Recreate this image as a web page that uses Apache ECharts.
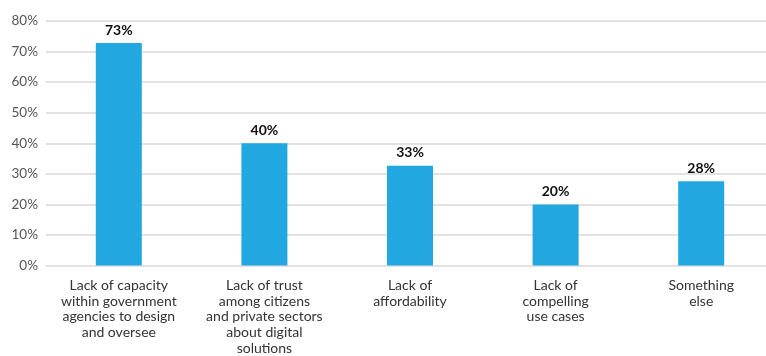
<!DOCTYPE html>
<html>
<head>
<meta charset="utf-8">
<script src="https://cdn.jsdelivr.net/npm/echarts@6/dist/echarts.min.js"></script>
<style>html,body{margin:0;padding:0;background:#fff;overflow:hidden;width:766px;height:356px;}#c{width:780px;height:356px;}</style>
</head>
<body>
<div id="c"></div>
<script>
const categories = [
  "Lack of capacity\nwithin government\nagencies to design\nand oversee",
  "Lack of trust\namong citizens\nand private sectors\nabout digital\nsolutions",
  "Lack of\naffordability",
  "Lack of\ncompelling\nuse cases",
  "Something\nelse"
];
const values = [72.8, 40, 32.6, 20, 27.6];
const valueLabels = ["73%", "40%", "33%", "20%", "28%"];
const yTicks = { min: 0, max: 80, interval: 10 };

const chart = echarts.init(document.getElementById('c'), null, { renderer: 'canvas' });
chart.setOption({
  animation: false,
  grid: { left: 46, right: 6, top: 21, bottom: 88.3 },
  xAxis: {
    type: 'category',
    data: categories,
    axisLine: { show: false },
    axisTick: { show: false },
    axisLabel: {
      interval: 0,
      margin: 12,
      color: '#333',
      fontFamily: 'Lato',
      fontSize: 14,
      lineHeight: 15.7
    }
  },
  yAxis: {
    type: 'value',
    min: yTicks.min,
    max: yTicks.max,
    interval: yTicks.interval,
    axisLine: { show: false },
    axisTick: { show: false },
    axisLabel: {
      formatter: '{value}%',
      color: '#555',
      fontFamily: 'Lato',
      fontSize: 13.5,
      margin: 8
    },
    splitLine: { lineStyle: { color: '#d9d9d9', width: 1.5 } }
  },
  series: [{
    type: 'bar',
    data: values,
    barWidth: 46,
    itemStyle: { color: '#22a7e0' },
    label: {
      show: true,
      position: 'top',
      distance: 6,
      formatter: p => valueLabels[p.dataIndex],
      color: '#111',
      fontFamily: 'Lato',
      fontWeight: 'bold',
      fontSize: 14
    }
  }]
});
</script>
</body>
</html>
